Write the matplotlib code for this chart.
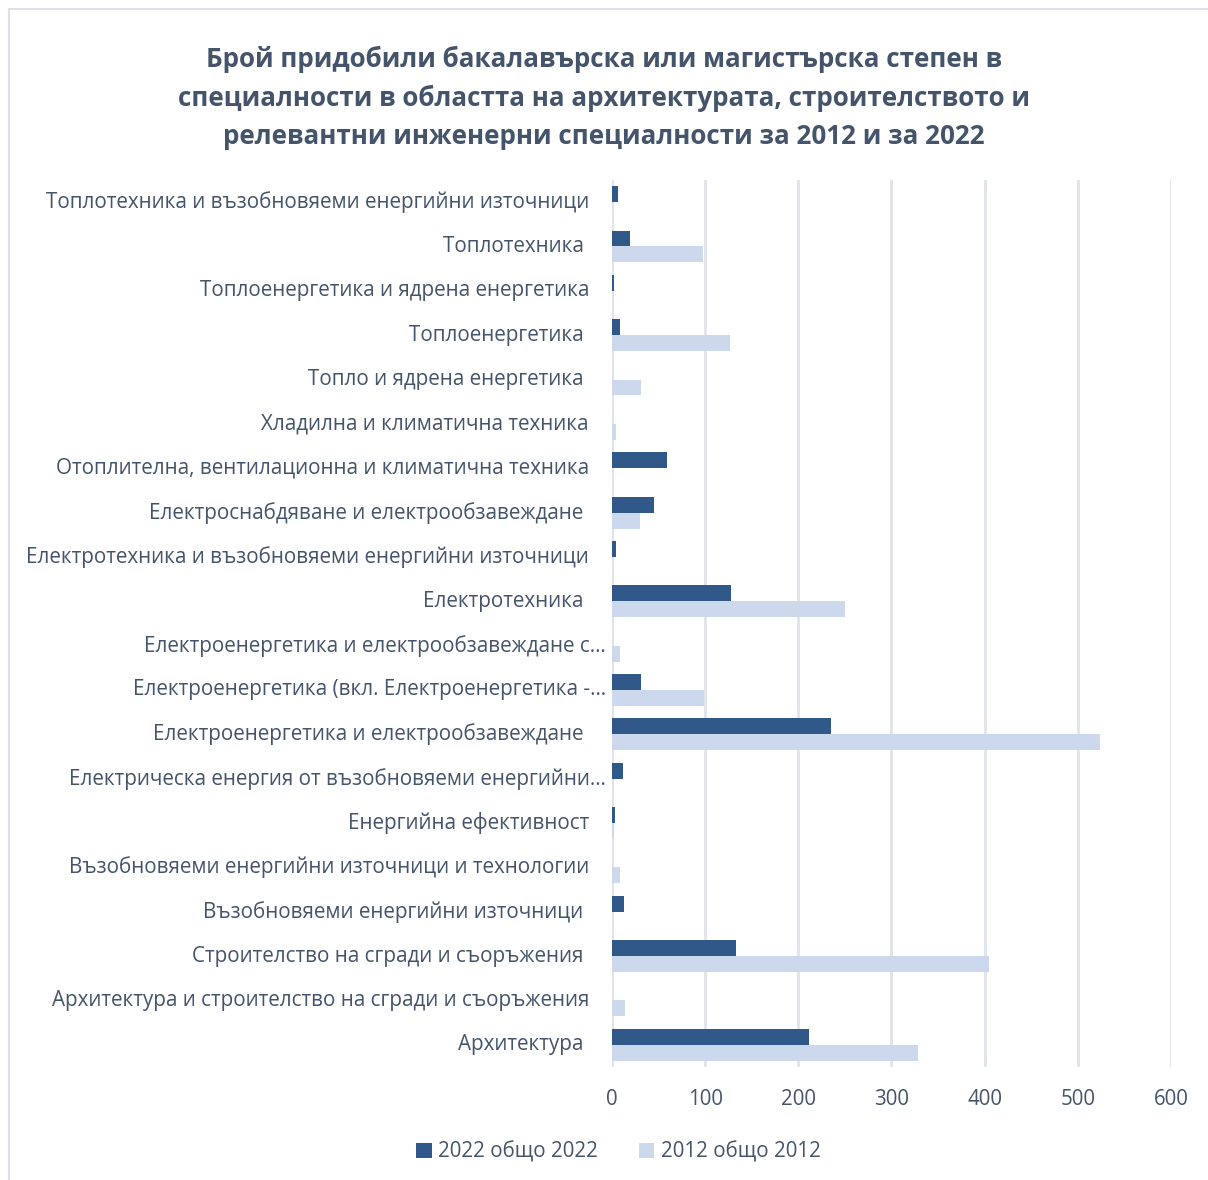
import matplotlib.pyplot as plt
import matplotlib.transforms as mtransforms
from matplotlib.patches import Rectangle

# categories, top to bottom
categories = [
    "Топлотехника и възобновяеми енергийни източници",
    "Топлотехника ",
    "Топлоенергетика и ядрена енергетика",
    "Топлоенергетика ",
    "Топло и ядрена енергетика ",
    "Хладилна и климатична техника",
    "Отоплителна, вентилационна и климатична техника",
    "Електроснабдяване и електрообзавеждане ",
    "Електротехника и възобновяеми енергийни източници",
    "Електротехника ",
    "Електроенергетика и електрообзавеждане с…",
    "Електроенергетика (вкл. Електроенергетика -…",
    "Електроенергетика и електрообзавеждане ",
    "Електрическа енергия от възобновяеми енергийни…",
    "Енергийна ефективност",
    "Възобновяеми енергийни източници и технологии",
    "Възобновяеми енергийни източници ",
    "Строителство на сгради и съоръжения ",
    "Архитектура и строителство на сгради и съоръжения",
    "Архитектура ",
]
# labels cut off with an ellipsis
truncated = {10, 11, 13}

vals_2022 = [6, 19, 2, 9, 0, 0, 59, 45, 4, 128, 0, 31, 235, 12, 3, 0, 13, 133, 0, 211]
vals_2012 = [0, 98, 0, 127, 31, 4, 0, 30, 0, 250, 9, 99, 524, 0, 2, 9, 0, 405, 14, 329]

series_names = ["2022 общо 2022", "2012 общо 2012"]
x_ticks = [0, 100, 200, 300, 400, 500, 600]

title = ("Брой придобили бакалавърска или магистърска степен в\n"
         "специалности в областта на архитектурата, строителството и\n"
         "релевантни инженерни специалности за 2012 и за 2022")

dark = "#30598A"
light = "#CCD8EC"
text_col = "#44546A"
grid_col = "#E0E4EA"

plt.rcParams['font.family'] = ['Open Sans', 'DejaVu Sans']

fig = plt.figure(figsize=(12.08, 11.8), dpi=100)
ax = fig.add_axes([0.5066, 0.0958, 0.4627, 0.7517])

n = len(categories)
pos = list(range(n))
h = 0.36
ax.barh([p - h / 2 for p in pos], vals_2022, height=h, color=dark,
        label=series_names[0], zorder=3)
ax.barh([p + h / 2 for p in pos], vals_2012, height=h, color=light,
        label=series_names[1], zorder=3)

ax.set_ylim(n - 0.5, -0.5)
ax.set_xlim(0, 600)
ax.set_xticks(x_ticks)
ax.set_xticklabels([str(t) for t in x_ticks], fontsize=14.8, color=text_col)
ax.tick_params(axis='x', length=0, pad=16)
ax.set_yticks([])
ax.xaxis.grid(True, color=grid_col, linewidth=2.0, zorder=0)
for s in ax.spines.values():
    s.set_visible(False)
ax.axvline(0, color=grid_col, linewidth=2.0, zorder=2)

# category labels, right-aligned left of the axis
for i, lab in enumerate(categories):
    dx = -6 if i in truncated else -23
    off = mtransforms.ScaledTranslation(dx / 100, 0, fig.dpi_scale_trans)
    tr = mtransforms.blended_transform_factory(ax.transAxes, ax.transData) + off
    ax.text(0, i, lab, transform=tr, ha='right', va='center',
            fontsize=14.9, color=text_col)

fig.text(0.5, 0.917, title, ha='center', va='center', fontsize=18.7,
         fontweight='bold', color=text_col, linespacing=1.55)

leg = fig.legend(loc='center', bbox_to_anchor=(0.512, 0.0235), ncol=2,
                 frameon=False, fontsize=14.8, handlelength=0.75,
                 handleheight=0.75, handletextpad=0.3, columnspacing=2.0)
for t in leg.get_texts():
    t.set_color(text_col)

# chart frame
fig.patches.append(Rectangle((9 / 1208, -0.1), 1.2, 1 - 9 / 1180 + 0.1,
                             transform=fig.transFigure, fill=False,
                             edgecolor="#DDE1E7", linewidth=1.5))

fig.savefig("out.png", dpi=100, facecolor="white")
